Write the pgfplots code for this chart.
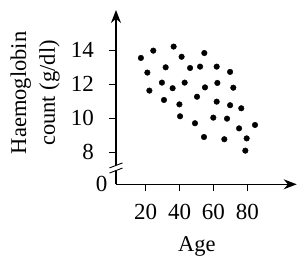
\documentclass[border=0pt]{standalone}
\usepackage{fontspec}
\setmainfont{Liberation Serif}
\usepackage{pgfplots}
\pgfplotsset{compat=1.18}
\usetikzlibrary{arrows.meta,calc}
\pgfplotstableread{
age hb
17.2 13.53
24.5 13.96
36.5 14.20
41.2 13.60
54.6 13.82
21.0 12.67
31.8 12.98
46.2 12.94
52.1 13.02
61.9 13.02
69.8 12.71
22.2 11.61
29.6 12.08
35.9 11.75
43.0 12.08
55.0 11.80
62.3 12.06
71.7 11.78
30.8 11.06
39.9 10.80
50.3 11.25
61.9 10.96
69.8 10.75
76.4 10.57
40.3 10.10
49.1 9.69
59.9 10.02
68.0 9.96
75.1 9.39
84.5 9.59
54.4 8.88
66.4 8.75
79.6 8.80
78.8 8.08
}\datatable
\begin{document}
\begin{tikzpicture}
\begin{axis}[
  scale only axis,
  width=180.7pt, height=174.3pt,
  xmin=2.5, xmax=109.1,
  ymin=6.1, ymax=16.35,
  axis x line=bottom, axis y line=left,
  axis line style={line width=1.3pt, -{Stealth[length=13pt,width=10pt]}},
  tick align=outside,
  major tick length=7pt,
  tick style={line width=0.8pt, black},
  xtick={20,40,60,80},
  xticklabels={20,40,60,80},
  ytick={8,10,12,14},
  yticklabels={8,10,12,14},
  extra y ticks={6.1},
  extra y tick labels={0},
  extra y tick style={major tick length=0pt, tick label style={xshift=6.5pt, yshift=0pt}},
  tick label style={font=\fontsize{23}{26}\selectfont, inner sep=0pt},
  xticklabel style={anchor=base, yshift=-28pt},
  yticklabel style={anchor=east, xshift=-15pt},
  xlabel={Age},
  xlabel style={font=\fontsize{22.5}{26}\selectfont, inner sep=0pt, at={(axis description cs:0.448,-0.387)}, anchor=base},
  ylabel={Haemoglobin\\count (g/dl)},
  ylabel style={font=\fontsize{22.5}{28.7}\selectfont, align=center, inner sep=0pt, at={(axis description cs:-0.31,0.524)}, anchor=south},
  clip=false,
]
\addplot[only marks, mark=*, mark size=2.8pt, black] table[x=age,y=hb] {\datatable};
\coordinate (O) at (axis cs:2.5,6.1);
\coordinate (B1) at (axis cs:2.5,7.21);
\coordinate (B2) at (axis cs:2.5,6.91);
\end{axis}
\fill[white] ($(B2)+(-2pt,0)$) rectangle ($(B1)+(2pt,0)$);
\draw[line width=0.9pt] ($(B1)+(-6.5pt,-2.5pt)$) -- ($(B1)+(6.5pt,2.5pt)$);
\draw[line width=0.9pt] ($(B2)+(-6.5pt,-2.5pt)$) -- ($(B2)+(6.5pt,2.5pt)$);
\pgfresetboundingbox
\path[use as bounding box] ($(O)+(-116pt,-80.7pt)$) rectangle ($(O)+(182pt,184.3pt)$);
\end{tikzpicture}
\end{document}
